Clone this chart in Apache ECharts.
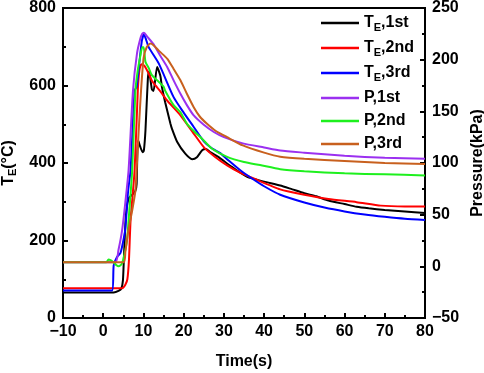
<!DOCTYPE html>
<html>
<head>
<meta charset="utf-8">
<script src="https://cdn.jsdelivr.net/npm/echarts@6/dist/echarts.min.js"></script>
<style>
  html, body { margin: 0; padding: 0; background: #fff; }
  #chart { width: 484px; height: 373px; }
</style>
</head>
<body>
<div id="chart"></div>
<script>
// [time(s), value] pairs
const teRun1 = [[-10, 66], [2.6, 66], [3.8, 70], [4.5, 76], [4.9, 97], [5.2, 170], [5.6, 260], [6.0, 295], [6.4, 310],
  [7.2, 318], [8.0, 328], [8.3, 345], [8.5, 430], [8.7, 458], [9.2, 442], [9.8, 428], [10.1, 432], [10.5, 484],
  [11.1, 618], [11.4, 636], [12.1, 590], [12.5, 586], [13.4, 648], [14.2, 625], [14.6, 596], [15.4, 557], [16.7, 502],
  [17.1, 488], [18.4, 454], [20.4, 424], [22.1, 410], [23.3, 415], [24.6, 433], [25.5, 436], [26.6, 428], [28.7, 415],
  [30, 405], [32, 390], [35.8, 364], [40, 352], [44, 342], [47, 332], [50, 322], [53, 314], [56, 303], [60, 294],
  [63, 287], [66, 283], [70, 279], [75, 275], [80, 271]]
const teRun2 = [[-10, 77], [4.7, 77], [5.5, 86], [6.0, 100], [6.4, 150], [6.8, 252], [7.8, 381], [8.6, 587], [9.0, 640],
  [9.5, 655], [10.3, 650], [11.3, 631], [12.1, 612], [13, 600], [14.2, 585], [16, 560], [19.2, 523], [22.5, 476],
  [25, 441], [27.9, 415], [30.8, 394], [34, 375], [37.4, 360], [44, 332], [50, 318], [56, 307], [63, 299], [69, 290],
  [75, 288], [80, 288]]
const teRun3 = [[-10, 71], [2.2, 71], [2.6, 136], [3.4, 157], [4.3, 168], [5.1, 205], [5.5, 231], [6.2, 329], [6.8, 381],
  [7.8, 587], [8.3, 596], [9.0, 660], [9.6, 715], [10.1, 732], [11.3, 699], [13.8, 657], [17.5, 570], [20, 530],
  [22.5, 493], [25, 456], [27, 438], [29, 426], [31, 408], [34, 382], [37, 360], [40, 340], [44, 318], [50, 298],
  [55, 285], [60, 275], [65, 267], [70, 261], [75, 256], [80, 253]]
const pRun1 = [[-10, 4], [3, 4], [3.8, 16], [4.7, 35], [5.5, 62], [6.3, 93], [7.4, 170], [8.4, 206], [9.2, 220],
  [9.7, 225], [10.1, 226], [11, 222], [12.5, 215], [14, 205], [15.9, 193], [17.5, 180], [19.2, 167], [20.8, 156],
  [22.5, 146], [25, 137], [27.5, 130], [30, 125], [34.7, 119], [40, 115], [44, 112], [50, 110], [60, 107], [70, 105],
  [80, 104]]
const pRun2 = [[-10, 4], [0.8, 4], [1.3, 6.5], [1.8, 6], [2.5, 4], [3.3, 1], [3.8, 0], [4.3, 1], [4.7, 3], [5.3, 12],
  [5.9, 25], [6.3, 44], [7.2, 93], [8.0, 170], [8.6, 190], [9.2, 203], [9.7, 212], [10.05, 212], [10.5, 198],
  [11.3, 192], [12.1, 185], [13.4, 180], [15, 174], [15.4, 170], [17.5, 156], [19.2, 149], [20.8, 138], [22.5, 131],
  [24.2, 125], [27, 114], [30.8, 106], [35, 101], [39, 98], [44, 94], [50, 92], [60, 90], [70, 89], [80, 88]]
const pRun3 = [[-10, 4], [5.1, 4], [5.5, 14], [6.3, 36], [7.2, 54], [8.0, 73], [8.3, 93], [8.8, 130], [9.4, 170],
  [10.05, 202], [10.8, 212], [11.7, 215.6], [12.5, 214], [14, 208], [15.9, 201], [17.5, 191], [19.2, 180], [20.8, 167],
  [22.5, 154], [24, 145], [25.8, 138], [28, 131], [30.8, 125], [34.7, 117], [40, 110], [44, 106], [50, 104], [60, 102],
  [70, 100], [80, 99]]

const seriesNames = ['T_E,1st', 'T_E,2nd', 'T_E,3rd', 'P,1st', 'P,2nd', 'P,3rd']
const seriesColors = ['#000000', '#ff0000', '#0000ff', '#9b30f0', '#1ef01e', '#c8601e']
const seriesData = [teRun1, teRun2, teRun3, pRun1, pRun2, pRun3]

const font = 'Arial, "Liberation Sans", sans-serif'
const minus = v => String(v).replace('-', '\u2212')

// T_E -> rich text with subscript
function richName(name) {
  if (name.indexOf('T_E') === 0) {
    return '{a|T}{sub|E}{a|' + name.slice(3) + '}'
  }
  return '{a|' + name + '}'
}
const richStyle = {
  a: { fontSize: 16, fontWeight: 'bold', fontFamily: font, color: '#000', lineHeight: 20 },
  sub: { fontSize: 11, fontWeight: 'bold', fontFamily: font, color: '#000', lineHeight: 10, verticalAlign: 'bottom' }
}

const chart = echarts.init(document.getElementById('chart'), null, { renderer: 'canvas' })

chart.setOption({
  animation: false,
  grid: {
    left: 63,
    right: 59,
    top: 8,
    bottom: 55,
    outerBoundsMode: 'none',
    show: true,
    borderColor: '#000',
    borderWidth: 2,
    backgroundColor: 'rgba(0,0,0,0)'
  },
  legend: {
    orient: 'vertical',
    left: 316,
    top: 10,
    icon: 'rect',
    itemWidth: 38,
    itemHeight: 2.5,
    itemGap: 7,
    data: seriesNames,
    formatter: richName,
    textStyle: { rich: richStyle }
  },
  xAxis: {
    type: 'value',
    min: -10,
    max: 80,
    interval: 10,
    name: 'Time(s)',
    nameLocation: 'middle',
    nameGap: 36,
    nameTextStyle: { fontSize: 16, fontWeight: 'bold', fontFamily: font, color: '#000' },
    axisLine: { onZero: false, lineStyle: { color: '#000', width: 2 } },
    axisTick: { inside: true, length: 5, lineStyle: { color: '#000', width: 2 } },
    minorTick: { show: true, splitNumber: 2, length: 3, lineStyle: { color: '#000', width: 2 } },
    axisLabel: { fontSize: 16, fontWeight: 'bold', fontFamily: font, color: '#000', margin: 6, formatter: minus },
    splitLine: { show: false }
  },
  yAxis: [
    {
      type: 'value',
      min: 0,
      max: 800,
      interval: 200,
      name: '{a|T}{sub|E}{a|(°C)}',
      nameLocation: 'middle',
      nameRotate: 90,
      nameGap: 40,
      nameTextStyle: { rich: richStyle },
      axisLine: { show: true, onZero: false, lineStyle: { color: '#000', width: 2 } },
      axisTick: { inside: true, length: 5, lineStyle: { color: '#000', width: 2 } },
      minorTick: { show: true, splitNumber: 2, length: 3, lineStyle: { color: '#000', width: 2 } },
      axisLabel: { fontSize: 16, fontWeight: 'bold', fontFamily: font, color: '#000', margin: 7 },
      splitLine: { show: false }
    },
    {
      type: 'value',
      position: 'right',
      min: -50,
      max: 250,
      interval: 50,
      name: 'Pressure(kPa)',
      nameLocation: 'middle',
      nameRotate: 90,
      nameGap: 40,
      nameTextStyle: { fontSize: 16, fontWeight: 'bold', fontFamily: font, color: '#000' },
      axisLine: { show: true, onZero: false, lineStyle: { color: '#000', width: 2 } },
      axisTick: { inside: true, length: 5, lineStyle: { color: '#000', width: 2 } },
      minorTick: { show: true, splitNumber: 2, length: 3, lineStyle: { color: '#000', width: 2 } },
      axisLabel: { fontSize: 16, fontWeight: 'bold', fontFamily: font, color: '#000', margin: 7, formatter: minus },
      splitLine: { show: false }
    }
  ],
  series: seriesNames.map((name, i) => ({
    name: name,
    type: 'line',
    yAxisIndex: i < 3 ? 0 : 1,
    data: seriesData[i],
    symbol: 'none',
    smooth: 0.2,
    color: seriesColors[i],
    lineStyle: { color: seriesColors[i], width: 2 }
  }))
})
</script>
</body>
</html>
